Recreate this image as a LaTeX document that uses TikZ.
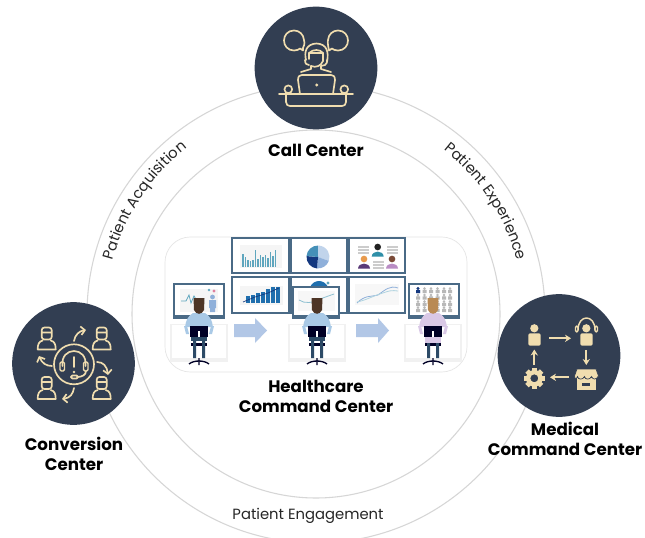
\documentclass[tikz,border=0pt]{standalone}
\usepackage{fontspec}
\setmainfont{Poppins}
\usetikzlibrary{arrows.meta,decorations.text}
\definecolor{navy}{HTML}{323E52}
\definecolor{cream}{HTML}{F0DDAF}
\definecolor{ringgrey}{HTML}{D6D6D6}
\definecolor{frameblue}{HTML}{4A6A86}
\definecolor{arrowblue}{HTML}{B2C7E6}
\definecolor{chartteal}{HTML}{5FA6BE}
\definecolor{chartblue}{HTML}{1F6FAE}
\definecolor{deepblue}{HTML}{14387F}
\definecolor{midblue}{HTML}{8FB0DA}
\definecolor{stoolblue}{HTML}{2C4A66}
\definecolor{deskgrey}{HTML}{F1F1F1}
\definecolor{shirtblue}{HTML}{A9C9E6}
\definecolor{shirtlilac}{HTML}{D9C8E6}
\definecolor{hairbrown}{HTML}{4D3526}
\definecolor{hairtan}{HTML}{B98A54}
\definecolor{shirtsa}{HTML}{2F8FA8}
\definecolor{shirtsb}{HTML}{5A3A78}
\definecolor{shirtsc}{HTML}{B98CC4}
\definecolor{skinsa}{HTML}{222222}
\definecolor{skinsb}{HTML}{E89A4C}
\definecolor{skinsc}{HTML}{7A4A38}
\newcommand\ringfont{\fontsize{11.1pt}{13pt}\selectfont\color{black!85}}
\newcommand\labelfont{\fontsize{12.5pt}{15pt}\selectfont\bfseries\color{black}}
\tikzset{
  ring/.style={draw=ringgrey,line width=.8pt},
  hub/.style={circle,fill=navy,draw=none,minimum size=92pt,inner sep=0pt},
  hublabel/.style={align=center,font=\labelfont,inner sep=0pt},
  ic/.style={draw=cream,line width=1.25pt,line cap=round,line join=round,fill=none},
  icf/.style={fill=cream,draw=none},
  icarrow/.style={draw=cream,line width=1.3pt,-{Stealth[length=4.5pt,width=5.5pt]}},
  icbarb/.style={draw=cream,line width=1.25pt,line cap=round,-{Straight Barb[length=3pt,width=6.5pt]}},
  screen/.style={draw=frameblue,line width=1.3pt,fill=white},
  monitor/.style={draw=frameblue,line width=1pt,fill=white},
  flow/.style={fill=arrowblue,draw=none},
  ringtext/.style={decorate,decoration={text along path,text align=center,text={#1}}}
}
% one seated worker with a desk, x = centre
\newcommand\worker[3]{%
  \begin{scope}[shift={(#1,0)}]
    \draw[deskgrey,line width=.8pt] (-29,324.5) -- (29,324.5) (-28,325) -- (-28,360) (28,325) -- (28,360);
    \fill[deskgrey] (-29,358) rectangle (29,361.5);
    \fill[#2] (-6,313) -- (6,313) .. controls (11,316) and (13,320) .. (14,327) -- (-14,327) .. controls (-13,320) and (-11,316) .. (-6,313) -- cycle;
    \fill[#3] (-5.5,298) -- (5.5,298) -- (5,310) .. controls (3,315) and (-3,315) .. (-5,310) -- cycle;
    \fill[#2] (-15,326) -- (-12,326) -- (-10,334) -- (-13,334) -- cycle (15,326) -- (12,326) -- (10,334) -- (13,334) -- cycle;
    \fill[black!85!blue] (-9,326) rectangle (9,337);
    \fill[white] (-1,331) rectangle (1,337);
    \fill[stoolblue] (-8,337) rectangle (8,341);
    \fill[black!85!blue] (-8,343) rectangle (8,345.5);
    \fill[stoolblue] (-6,341) rectangle (-3,358) (3,341) rectangle (6,358);
    \draw[black!85!blue,line width=1pt] (-10,364) .. controls (-5,360) and (5,360) .. (10,364) (0,358) -- (0,365);
  \end{scope}}
\newcommand\conuser[2]{%
  \begin{scope}[shift={(#1,#2)}]
    \draw[ic,rounded corners=2pt] (-5,-13) -- (5,-13) -- (5,-1) -- (-5,-1) -- cycle (-5,-8) -- (5,-8);
    \draw[ic] (-4,0) .. controls (-8,1) and (-9,4) .. (-9,9) -- (9,9) .. controls (9,4) and (8,1) .. (4,0);
  \end{scope}}
\begin{document}
\begin{tikzpicture}[x=.75pt,y=-.75pt]
\useasboundingbox (0,0) rectangle (645,538);
\clip (0,0) rectangle (645,538);
\fill[white] (0,0) rectangle (645,538);
\coordinate (ringcentre) at (316,314);
\draw[ring] (ringcentre) circle[radius=229*.75pt];
\draw[ring] (ringcentre) circle[radius=184*.75pt];

% picture panel
\draw[black!10,line width=.5pt,fill=white,rounded corners=19pt] (165,237) rectangle (467,372);

% screens
\foreach \n/\a/\b/\c/\d in {sa/232/238/289/273,sb/291/238/347/273,sc/349/238/405/273,sd/232/277/289/313,se/291/277/347/313,sf/349/277/405/313}
  \draw[screen] (\a,\b) rectangle (\c,\d);
% screen a: bars
\fill[black!4] (240,245) rectangle (282,268);
\foreach \x/\h in {242/13,244.5/10,247/7,249.5/6,252/7,254.5/17,257/8,259.5/12,262/10,264.5/12,267/9,269.5/15,272/11,274.5/17}
  \fill[chartteal] (\x,267) rectangle (\x+1.6,267-\h);
% screen b: pie
\fill[midblue!55] (318,257) -- (318,245.5) arc[start angle=90,end angle=-20,radius=8.6pt] -- cycle;
\fill[midblue] (318,257) -- (328.8,260.9) arc[start angle=-20,end angle=-95,radius=8.6pt] -- cycle;
\fill[deepblue] (318,257) -- (317,268.5) arc[start angle=-95,end angle=-185,radius=8.6pt] -- cycle;
\fill[chartteal!60!chartblue] (318,257) -- (306.5,256) arc[start angle=175,end angle=90,radius=8.6pt] -- cycle;
% screen c: people
\foreach \x/\y/\sh/\hr in {377.7/247/shirtsa/skinsa,364/259/shirtsb/skinsb,392/259/shirtsc/skinsc}{
  \fill[\sh] (\x-6,\y+9.5) .. controls (\x-5.5,\y+3) and (\x+5.5,\y+3) .. (\x+6,\y+9.5) -- cycle;
  \fill[\hr] (\x,\y) circle[radius=2.5pt];
}
\foreach \x/\y in {358/247,358/250,358/253,387/247,387/250,387/253,373/262,373/265,373/268}
  \draw[black!20,line width=.8pt] (\x,\y) -- (\x+10.5,\y);
% screen d: bars with trend line
\fill[black!4] (240,286) rectangle (283,305);
\foreach \x/\h in {246/7,250.5/8,256/10,261/11,266/14,271/16,276/16}
  \fill[chartblue] (\x,303) rectangle (\x+4,303-\h);
\draw[deepblue,line width=.5pt] (243,302) -- (255,297) -- (268,293) -- (279,288);
% screen e: top of a chart
\fill[chartblue] (310,287) .. controls (314,279) and (324,279) .. (328,287) -- cycle;
\fill[chartteal] (328,283) circle[radius=1.2pt];
% screen f: line chart
\fill[black!3] (355,284) rectangle (399,305);
\draw[midblue,line width=.6pt] (357,303) .. controls (365,295) and (370,297) .. (378,295) .. controls (385,290) and (390,285) .. (398,288);
\draw[chartteal!50,line width=.6pt] (357,302) .. controls (367,300) and (375,295) .. (383,293) .. controls (388,291) and (392,290) .. (398,291);

% workers' monitors
\draw[monitor] (174,284) rectangle (224,318);
\fill[frameblue] (174,315) rectangle (224,318.5);
\fill[black!4] (180,289) rectangle (218,312);
\draw[chartteal,line width=.6pt] (181,301) -- (186,301) -- (189,295) -- (191,303) -- (194,296) -- (197,301) -- (203,301);
\fill[midblue] (212.5,297) circle[radius=1.8pt] (209,300) rectangle (216,308) (210,308) rectangle (215,312);
\fill[chartteal] (209,290) circle[radius=1pt];
\fill[purple!50] (214,291) circle[radius=1.2pt];
\draw[monitor] (293,287) rectangle (339,318);
\fill[frameblue] (293,315) rectangle (339,318.5);
\fill[black!3] (298,291) rectangle (335,311);
\draw[chartteal!70,line width=.6pt] (299,300) .. controls (305,304) and (312,303) .. (320,299) -- (334,294);
\draw[monitor] (409,284) rectangle (459,318);
\fill[frameblue] (409,315) rectangle (459,318.5);
\foreach \y in {291,297.5,304,310}{
  \foreach \x in {418,424.5,431,437.5,444,450}{
    \fill[black!28] (\x,\y-2.5) circle[radius=1.1pt] (\x-2,\y-1.2) rectangle (\x+2,\y+2);
  }}
\fill[deepblue] (418,288.5) circle[radius=1.2pt] (416,290) rectangle (420,293);

\worker{199}{shirtblue}{hairbrown}
\worker{317}{shirtblue}{hairbrown}
\worker{433}{shirtlilac}{hairtan}
\fill[shirtlilac] (425,337) rectangle (441,343);

% flow arrows
\fill[flow] (234,324) -- (255,324) -- (255,318) -- (267,330.5) -- (255,343) -- (255,337) -- (234,337) -- cycle;
\fill[flow] (356,324) -- (378,324) -- (378,318) -- (389,330.5) -- (378,343) -- (378,337) -- (356,337) -- cycle;

% hubs
\node[hub] (call) at (316,68) {};
\node[hub] (conv) at (73.5,363.5) {};
\node[hub] (med) at (559,355.5) {};

% call centre icon
\draw[ic] (303,48) .. controls (305,44) and (304.5,41) .. (304,40) .. controls (303.5,34) and (299,30.5) .. (294,30.5) .. controls (288,30.5) and (284,35) .. (284,40.5) .. controls (284,46) and (288,50.5) .. (294,50.5) .. controls (297,50.5) and (299,49.5) .. (300,48.5) -- (303,50.5) -- cycle;
\draw[ic] (329,50.5) -- (332,48.5) .. controls (333,49.5) and (335,50.5) .. (338,50.5) .. controls (344,50.5) and (348,46) .. (348,40.5) .. controls (348,35) and (344,30.5) .. (338,30.5) .. controls (333,30.5) and (328.5,34) .. (328,40) .. controls (327.5,42) and (328,46) .. (329,50.5) -- cycle;
\draw[ic] (306,60) .. controls (304,52) and (306,44) .. (316.5,43.5) .. controls (327,44) and (329,52) .. (327,62);
\draw[ic] (305,60) .. controls (305,64) and (307,65) .. (309,65) (321,66) -- (325,65) .. controls (327,64) and (327,62) .. (327,60);
\draw[ic] (309,53) .. controls (313,49) and (320,49) .. (323,53) -- (323,61) .. controls (321,66) and (316,68) .. (311,66) (309,53) -- (309,59);
\draw[ic] (309,53) -- (323,53);
\draw[ic] (311,66) -- (311,69) -- (301,72) (321,66) -- (321,69) -- (331,72);
\draw[ic] (300,94) -- (298,80) .. controls (298,76) and (300,75) .. (302,75) -- (331,75) .. controls (333,75) and (335,76) .. (335,80) -- (333,94);
\fill[cream] (316.7,85) circle[radius=1.2pt];
\draw[ic] (279,94.3) -- (353,94.3);
\draw[ic] (286,94.3) -- (286,102) .. controls (286,105) and (288,106) .. (290,106) -- (342,106) .. controls (344,106) and (346,105) .. (346,102) -- (346,94.3);
\draw[ic] (288.3,89.3) circle[radius=2.9pt];
\draw[ic] (344.3,89.3) circle[radius=2.9pt];

% conversion icon
\draw[ic] (74,364.3) circle[radius=15pt];
\draw[ic] (62.5,366) .. controls (60,346) and (88,346) .. (85.5,366);
\draw[ic,line width=1pt,rounded corners=1pt] (60,362) rectangle (64.5,371);
\draw[ic,line width=1pt,rounded corners=1pt] (83.5,362) rectangle (88,371);
\draw[ic] (86,371) .. controls (86,375) and (82,377) .. (77,377);
\draw[ic,rounded corners=1pt] (71,375.5) rectangle (78,378.5);
\draw[ic] (74,357) -- (74,367);
\fill[cream] (74,372) circle[radius=1pt];
\conuser{46.7}{340.5}
\conuser{101.7}{340.5}
\conuser{46.7}{390}
\conuser{101.7}{390}
\draw[icbarb] (74,341) .. controls (75,335) and (79,331) .. (86,330);
\draw[icbarb] (97,362) .. controls (103,362) and (107,366) .. (108,375);
\draw[icbarb] (74,388) .. controls (73,394) and (70,398) .. (62,399);
\draw[icbarb] (52,366) .. controls (46,366) and (42,363) .. (39,356);

% medical icon
\fill[icf] (534.3,328.3) circle[radius=3.1pt];
\fill[icf,rounded corners=1.5pt] (528.3,345.7) rectangle (540.7,333.3);
\draw[icarrow] (549.3,338.3) -- (571,338.3);
\fill[icf] (586.3,328.3) circle[radius=3.1pt];
\fill[icf,rounded corners=1.5pt] (580.3,345.7) rectangle (592.7,333.3);
\draw[ic,line width=1.1pt] (578,330) .. controls (578,314) and (595,314) .. (595,330);
\draw[ic,line width=1.1pt,rounded corners=1pt] (575.5,326) rectangle (578,332);
\draw[ic,line width=1.1pt,rounded corners=1pt] (595,326) rectangle (597.5,332);
\draw[icarrow] (586.3,350) -- (586.3,365);
\fill[icf] (577.3,378) rectangle (595.5,390);
\fill[navy] (582,383) rectangle (590,386);
\fill[icf,draw=navy,line width=.5pt] (577,369) -- (596,369) -- (598.5,376) .. controls (596,380) and (593,380) .. (591.5,376.5) .. controls (590,380) and (585,380) .. (584.5,376.5) .. controls (583,380) and (578,380) .. (577.5,376.5) .. controls (576,380) and (575,379) .. (574.5,376) -- cycle;
\draw[icarrow] (569,377.3) -- (550,377.3);
\fill[icf,even odd rule] (534.3,378.3) circle[radius=6.2pt] (534.3,378.3) circle[radius=3pt];
\foreach \a in {0,45,...,315}
  \fill[icf,rotate around={\a:(534.3,378.3)}] (531.9,368) rectangle (536.7,372);
\draw[icarrow] (534.3,365) -- (534.3,349.5);

% labels
\node[hublabel] (calllabel) at (316,150) {Call Center};
\node[hublabel] (hcclabel) at (316,396) {Healthcare\\Command Center};
\node[hublabel] (convlabel) at (74,454) {Conversion\\Center};
\node[hublabel] (medlabel) at (565,439) {Medical\\Command Center};
\node[inner sep=0pt,font=\ringfont] (engage) at (308,515.5) {Patient Engagement};

% labels that follow the ring
\begin{scope}[y=.75pt,yshift=-403.5pt]
\coordinate (c) at (316,224);
\path[ringtext={|\ringfont|Patient Acquisition}] (c) ++(180:157.5pt) arc[start angle=180,end angle=113,radius=157.5pt];
\path[ringtext={|\ringfont|Patient Experience}] (c) ++(67:156pt) arc[start angle=67,end angle=0,radius=156pt];
\end{scope}
\end{tikzpicture}
\end{document}
